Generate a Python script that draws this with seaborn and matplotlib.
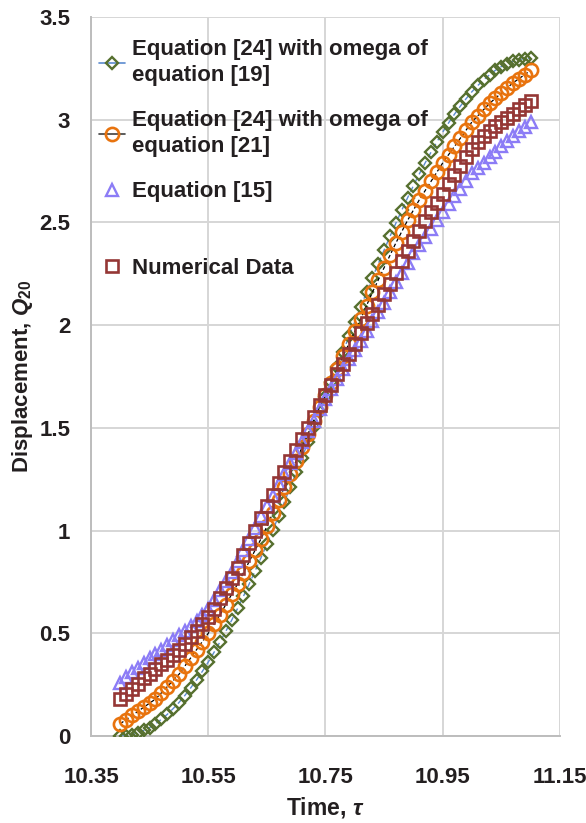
import numpy as np
import pandas as pd
import matplotlib
matplotlib.use("Agg")
import matplotlib.pyplot as plt
from matplotlib.lines import Line2D
import seaborn as sns

# ---------------- data ----------------
time = [round(10.40 + 0.01 * i, 2) for i in range(71)]

eq24_omega19 = [0.000, 0.002, 0.007, 0.015, 0.027, 0.041, 0.059, 0.081, 0.105, 0.133,
                0.163, 0.197, 0.234, 0.273, 0.315, 0.360, 0.408, 0.458, 0.510, 0.564,
                0.621, 0.680, 0.741, 0.804, 0.868, 0.934, 1.001, 1.070, 1.140, 1.211,
                1.283, 1.355, 1.429, 1.502, 1.576, 1.650, 1.724, 1.798, 1.871, 1.945,
                2.017, 2.089, 2.160, 2.230, 2.299, 2.366, 2.432, 2.496, 2.559, 2.620,
                2.679, 2.736, 2.790, 2.842, 2.892, 2.940, 2.985, 3.027, 3.066, 3.103,
                3.137, 3.167, 3.195, 3.219, 3.241, 3.259, 3.273, 3.285, 3.293, 3.298,
                3.300]

eq24_omega21 = [0.06, 0.08, 0.10, 0.12, 0.14, 0.16, 0.18, 0.21, 0.24, 0.27,
                0.30, 0.34, 0.38, 0.42, 0.46, 0.50, 0.545, 0.59, 0.64, 0.69,
                0.74, 0.795, 0.85, 0.905, 0.96, 1.02, 1.085, 1.15, 1.21, 1.275,
                1.34, 1.405, 1.47, 1.535, 1.60, 1.66, 1.72, 1.785, 1.85, 1.91,
                1.97, 2.03, 2.095, 2.16, 2.22, 2.28, 2.34, 2.40, 2.455, 2.51,
                2.56, 2.61, 2.655, 2.70, 2.745, 2.79, 2.83, 2.87, 2.91, 2.95,
                2.99, 3.02, 3.05, 3.08, 3.105, 3.13, 3.155, 3.18, 3.20, 3.22,
                3.24]

eq15 = [0.26, 0.285, 0.31, 0.33, 0.355, 0.38, 0.40, 0.42, 0.445, 0.465,
        0.49, 0.51, 0.535, 0.56, 0.59, 0.62, 0.66, 0.71, 0.755, 0.80,
        0.85, 0.905, 0.96, 1.015, 1.07, 1.12, 1.17, 1.225, 1.275, 1.33,
        1.38, 1.43, 1.485, 1.535, 1.59, 1.64, 1.69, 1.74, 1.785, 1.835,
        1.88, 1.925, 1.97, 2.02, 2.065, 2.11, 2.16, 2.21, 2.255, 2.305,
        2.35, 2.39, 2.43, 2.47, 2.51, 2.55, 2.59, 2.63, 2.665, 2.70,
        2.74, 2.765, 2.79, 2.82, 2.845, 2.87, 2.895, 2.92, 2.945, 2.965,
        2.99]

numerical = [0.18, 0.205, 0.23, 0.255, 0.28, 0.30, 0.325, 0.35, 0.37, 0.395,
             0.42, 0.45, 0.48, 0.51, 0.545, 0.58, 0.62, 0.67, 0.72, 0.77,
             0.82, 0.88, 0.94, 1.00, 1.06, 1.12, 1.175, 1.23, 1.285, 1.34,
             1.39, 1.445, 1.50, 1.555, 1.61, 1.66, 1.71, 1.76, 1.81, 1.86,
             1.91, 1.96, 2.01, 2.055, 2.10, 2.15, 2.20, 2.255, 2.31, 2.36,
             2.41, 2.46, 2.505, 2.55, 2.595, 2.64, 2.685, 2.73, 2.775, 2.82,
             2.86, 2.89, 2.92, 2.945, 2.97, 2.99, 3.01, 3.03, 3.05, 3.07,
             3.09]

labels = ["Equation [24] with omega of\nequation [19]",
          "Equation [24] with omega of\nequation [21]",
          "Equation [15]",
          "Numerical Data"]

x_ticks = [10.35, 10.55, 10.75, 10.95, 11.15]
x_tick_labels = ["10.35", "10.55", "10.75", "10.95", "11.15"]
y_ticks = [0, 0.5, 1, 1.5, 2, 2.5, 3, 3.5]
y_tick_labels = ["0", "0.5", "1", "1.5", "2", "2.5", "3", "3.5"]

# ---------------- style ----------------
sns.set_theme(style="white")
plt.rcParams["font.family"] = ["Liberation Sans", "DejaVu Sans"]
plt.rcParams["font.weight"] = "bold"
plt.rcParams["mathtext.fontset"] = "custom"
plt.rcParams["mathtext.rm"] = "Liberation Sans:bold"
plt.rcParams["mathtext.it"] = "Liberation Sans:italic:bold"
plt.rcParams["mathtext.bf"] = "Liberation Sans:bold"

GREEN = "#56702F"
BLUE = "#5B8BD0"
ORANGE = "#E8730E"
PURPLE = "#8C7CF6"
RED = "#953735"
TEXT = "#231F20"
GRID = "#D6D6D6"

df = pd.DataFrame({"time": time, "g": eq24_omega19, "o": eq24_omega21,
                   "t": eq15, "s": numerical})

fig = plt.figure(figsize=(5.86, 8.23), dpi=100)
ax = fig.add_axes([0.1553, 0.1057, 0.8003, 0.8736])

MS_D, MS_O, MS_T, MS_S = 6.6, 9.5, 8.6, 8.8

# green diamonds with blue dashed line
sns.lineplot(data=df, x="time", y="g", ax=ax, color=BLUE, linestyle=(0, (4, 3)),
             linewidth=1.0, marker="D", markersize=MS_D, markerfacecolor="none",
             markeredgecolor=GREEN, markeredgewidth=1.7, zorder=3)
# orange circles with black dashed line
sns.lineplot(data=df, x="time", y="o", ax=ax, color="black", linestyle=(0, (3, 2)),
             linewidth=0.9, marker="o", markersize=MS_O, markerfacecolor="none",
             markeredgecolor=ORANGE, markeredgewidth=1.9, zorder=4)
# triangles (no line)
sns.lineplot(data=df, x="time", y="t", ax=ax, linestyle="none",
             marker="^", markersize=MS_T, markerfacecolor="none",
             markeredgecolor=PURPLE, markeredgewidth=1.7, zorder=5)
# squares (no line)
sns.lineplot(data=df, x="time", y="s", ax=ax, linestyle="none",
             marker="s", markersize=MS_S, markerfacecolor="none",
             markeredgecolor=RED, markeredgewidth=1.9, zorder=6)

ax.set_xlim(10.35, 11.15)
ax.set_ylim(0, 3.5)
ax.set_xticks(x_ticks)
ax.set_xticklabels(x_tick_labels)
ax.set_yticks(y_ticks)
ax.set_yticklabels(y_tick_labels)

ax.grid(True, color=GRID, linewidth=1.4)
ax.set_axisbelow(True)
for side in ["top", "right"]:
    ax.spines[side].set_visible(False)
for side in ["left", "bottom"]:
    ax.spines[side].set_color("#BDBDBD")
    ax.spines[side].set_linewidth(1.4)

ax.tick_params(axis="both", which="major", direction="out", length=5, width=1.2,
               color="#BDBDBD", labelsize=16, labelcolor=TEXT, pad=10)
ax.tick_params(axis="x", pad=17)
for lab in ax.get_xticklabels() + ax.get_yticklabels():
    lab.set_fontweight("bold")

ax.set_xlabel(r"Time, $\tau$", fontsize=16.5, fontweight="bold", color=TEXT, labelpad=5)
ax.set_ylabel(r"Displacement, $Q_{\mathrm{20}}$", fontsize=16, fontweight="bold",
              color=TEXT, labelpad=3)

# legend (two pieces so that the last entry sits lower, as in the reference)
h1 = Line2D([], [], color=BLUE, lw=1.2, marker="D", ms=MS_D, mfc="none",
            mec=GREEN, mew=1.7)
h2 = Line2D([], [], color="#404040", lw=1.2, marker="o", ms=MS_O, mfc="none",
            mec=ORANGE, mew=1.9)
h3 = Line2D([], [], ls="none", marker="^", ms=MS_T, mfc="none", mec=PURPLE, mew=1.7)
h4 = Line2D([], [], ls="none", marker="s", ms=MS_S, mfc="none", mec=RED, mew=1.9)

leg_font = {"size": 16, "weight": "bold"}
leg1 = ax.legend([h1, h2, h3], labels[:3], loc="upper left",
                 bbox_to_anchor=(-0.012, 0.988), frameon=False, prop=leg_font,
                 handlelength=1.2, handletextpad=0.3, labelspacing=1.1,
                 borderaxespad=0.2)
for t in leg1.get_texts():
    t.set_color(TEXT)
    t.set_linespacing(1.3)
ax.add_artist(leg1)
leg2 = ax.legend([h4], labels[3:], loc="center left",
                 bbox_to_anchor=(-0.012, 0.650), frameon=False, prop=leg_font,
                 handlelength=1.2, handletextpad=0.3, borderaxespad=0.2)
for t in leg2.get_texts():
    t.set_color(TEXT)

fig.savefig("out.png", dpi=100)
